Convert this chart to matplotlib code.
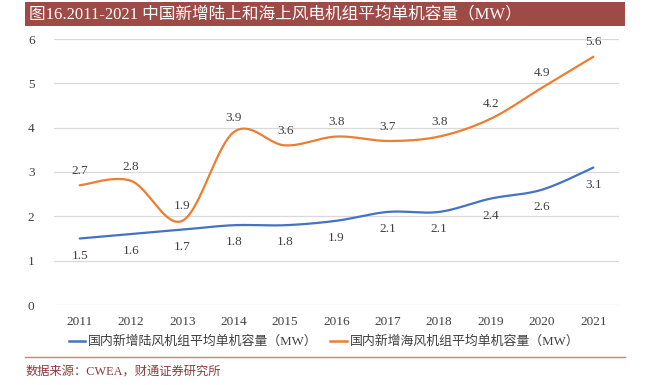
import numpy as np
import matplotlib
matplotlib.use("Agg")
import matplotlib.pyplot as plt
from matplotlib.lines import Line2D

years = [2011, 2012, 2013, 2014, 2015, 2016, 2017, 2018, 2019, 2020, 2021]
onshore = [1.5, 1.6, 1.7, 1.8, 1.8, 1.9, 2.1, 2.1, 2.4, 2.6, 3.1]
offshore = [2.7, 2.8, 1.9, 3.9, 3.6, 3.8, 3.7, 3.8, 4.2, 4.9, 5.6]
yticks = [0, 1, 2, 3, 4, 5, 6]
title = "图16.2011-2021 中国新增陆上和海上风电机组平均单机容量（MW）"
name_on = "国内新增陆风机组平均单机容量（MW）"
name_off = "国内新增海风机组平均单机容量（MW）"
source = "数据来源：CWEA，财通证券研究所"

SERIF = ['Liberation Serif', 'Noto Sans CJK SC']


def smooth(xs, ys, sx=51.3, sy=44.3, n=40):
    # Excel-like smoothed line (Catmull-Rom Bezier) computed in pixel-like space
    P = np.column_stack([np.asarray(xs, float) * sx, np.asarray(ys, float) * sy])
    out = []
    for i in range(len(P) - 1):
        p0 = P[i - 1] if i > 0 else P[i]
        p1 = P[i]
        p2 = P[i + 1]
        p3 = P[i + 2] if i + 2 < len(P) else P[i + 1]
        c1 = p1 + (p2 - p0) / 6.0
        c2 = p2 - (p3 - p1) / 6.0
        t = np.linspace(0, 1, n)[:, None]
        seg = ((1 - t) ** 3) * p1 + 3 * ((1 - t) ** 2) * t * c1 + 3 * (1 - t) * t ** 2 * c2 + t ** 3 * p2
        out.append(seg if i == 0 else seg[1:])
    out = np.vstack(out)
    return out[:, 0] / sx, out[:, 1] / sy


fig = plt.figure(figsize=(6.48, 3.85), dpi=100)
ax = fig.add_axes([54 / 648, 1 - 305 / 385, (619 - 54) / 648, (305 - 39) / 385])

blue = '#4472C4'
orange = '#ED7D31'

xs, ys = smooth(years, onshore)
ax.plot(xs, ys, color=blue, lw=1.6, solid_capstyle='round')
xs, ys = smooth(years, offshore)
ax.plot(xs, ys, color=orange, lw=1.6, solid_capstyle='round')

for x, v in zip(years, onshore):
    ax.annotate(f"{v:.1f}", (x, v), xytext=(0, -8), textcoords='offset points',
                ha='center', va='top', fontsize=9.5, family=SERIF, color='#404040')
for x, v in zip(years, offshore):
    ax.annotate(f"{v:.1f}", (x, v), xytext=(0, 6), textcoords='offset points',
                ha='center', va='bottom', fontsize=9.5, family=SERIF, color='#404040')

ax.set_xlim(2010.5, 2021.5)
ax.set_ylim(0, 6)
ax.set_yticks(yticks)
ax.set_xticks(years)
ax.set_xticklabels([str(y) for y in years], family=SERIF, fontsize=9.5, color='#404040')
ax.set_yticklabels([str(y) for y in yticks], family=SERIF, fontsize=9.5, color='#404040')
ax.tick_params(length=0, pad=8)
ax.tick_params(axis='y', pad=14)
ax.grid(axis='y', color='#d9d9d9', lw=0.9)
ax.set_axisbelow(True)
for s in ax.spines.values():
    s.set_visible(False)

# Title bar
fig.patches.append(plt.Rectangle((25 / 648, 1 - 26 / 385), 600 / 648, 24 / 385,
                                 transform=fig.transFigure, facecolor='#9E4A46',
                                 edgecolor='none', zorder=0))
fig.text(29 / 648, 1 - 14 / 385, title, color='white', fontsize=12, family=SERIF,
         ha='left', va='center')

# Legend
handles = [Line2D([], [], color=blue, lw=1.8), Line2D([], [], color=orange, lw=1.8)]
fig.legend(handles, [name_on, name_off], loc='center', bbox_to_anchor=(324 / 648, 1 - 342 / 385),
           ncol=2, frameon=False, prop={'family': SERIF, 'size': 9.3}, handlelength=1.3,
           handletextpad=0.2, columnspacing=1.0, labelcolor='#404040')

# separator
fig.add_artist(Line2D([25 / 648, 625 / 648], [1 - 357 / 385, 1 - 357 / 385],
                      transform=fig.transFigure, color='#C9837F', lw=1.0))
fig.text(26 / 648, 1 - 372 / 385, source, color='#8B3A3A', fontsize=8.8, family=SERIF,
         ha='left', va='center')

fig.savefig('out.png', dpi=100)
